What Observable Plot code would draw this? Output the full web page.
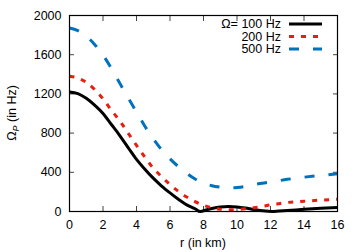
<!DOCTYPE html>
<html><head><meta charset="utf-8">
<script src="https://cdn.jsdelivr.net/npm/d3@7"></script>
<script src="https://cdn.jsdelivr.net/npm/@observablehq/plot@0.6"></script>
<style>body{margin:0;background:#fff}</style>
</head><body><div id="chart"></div>
<script>
const r100 = [0,0.5,1,1.5,2,2.5,3,3.5,4,4.5,5,5.5,6,6.5,7,7.5,7.8,8.2,8.5,9,9.5,10,10.5,11,11.5,12.1,12.5,13,14,15,16];
const v100 = [1220,1203,1155,1085,1000,888,775,652,532,432,340,260,190,125,68,28,0,18,30,45,50,46,35,20,8,0,5,10,22,32,41];
const r200 = [0,0.5,1,1.5,2,2.5,3,3.5,4,4.5,5,5.5,6,6.5,7,7.5,8,8.5,9,9.5,10,10.5,11,11.5,12,12.5,13,14,15,16];
const v200 = [1380,1362,1318,1245,1150,1032,925,800,675,555,442,355,275,205,148,100,63,38,24,17,20,28,38,52,68,80,92,105,116,125];
const r500 = [0,0.5,1,1.5,2,2.5,3,3.5,4,4.5,5,5.5,6,6.5,7,7.5,8,8.5,9,9.5,10,10.5,11,12,13,14,15,16];
const v500 = [1872,1845,1790,1705,1595,1460,1310,1160,1015,870,742,630,537,458,390,332,290,263,248,240,245,256,275,300,328,350,368,385];
const seriesLabels = ["Ω= 100 Hz","200 Hz","500 Hz"];
const colors = ["#000000","#e51e10","#0072bd"];
const dashes = ["none","5,7","10,14"];
const xTicks = [0,2,4,6,8,10,12,14,16];
const yTicks = [0,400,800,1200,1600,2000];

const series = [[r100,v100],[r200,v200],[r500,v500]].map(([rs,vs],i)=>rs.map((r,j)=>({r, v: vs[j], s: i})));

const W=360,H=252, ML=69, MR=23, MT=15, MB=41;
const font = "'Liberation Sans', Arial, Helvetica, sans-serif";
const fmt = d3.format("d");
const chart = Plot.plot({
  width: W, height: H,
  marginLeft: ML, marginRight: MR, marginTop: MT, marginBottom: MB,
  style: {fontFamily: font, fontSize: "12.5px", color: "#000", background: "#fff"},
  x: {domain: [0,16]},
  y: {domain: [0,2000]},
  marks: [
    Plot.axisX({ticks: xTicks, tickSize: -5, tickPadding: 14, tickFormat: fmt, label: null, stroke: "#444"}),
    Plot.axisX({anchor: "top", ticks: xTicks, tickSize: -5, tickFormat: () => "", label: null, stroke: "#444"}),
    Plot.axisY({ticks: yTicks, tickSize: -5, tickPadding: 13, tickFormat: fmt, label: null, stroke: "#444"}),
    Plot.axisY({anchor: "right", ticks: yTicks, tickSize: -5, tickFormat: () => "", label: null, stroke: "#444"}),
    ...series.map((d,i)=>Plot.line(d, {x: "r", y: "v", stroke: colors[i], strokeWidth: 3,
      strokeDasharray: dashes[i], strokeLinecap: "butt", curve: "monotone-x"})),
    Plot.frame({stroke: "#000", strokeWidth: 1.2})
  ]
});
document.getElementById("chart").appendChild(chart);

const svg = d3.select(chart);
svg.append("text").attr("x", ML + (W-ML-MR)/2).attr("y", H-5)
  .attr("text-anchor","middle").attr("font-family", font).attr("font-size", 12.5).attr("fill","#000")
  .text("r (in km)");
const yl = svg.append("text").attr("transform", `translate(16,${MT + (H-MT-MB)/2}) rotate(-90)`)
  .attr("text-anchor","middle").attr("font-family", font).attr("font-size", 12.5).attr("fill","#000");
yl.append("tspan").text("Ω");
yl.append("tspan").attr("font-size", 9).attr("font-style","italic").attr("dy", 3).text("P");
yl.append("tspan").attr("dy", -3).text(" (in Hz)");

const lg = svg.append("g");
seriesLabels.forEach((t,i)=>{
  const y = MT + 9 + i*12.5;
  lg.append("text").attr("x", W-MR-56).attr("y", y).attr("dy","0.35em").attr("text-anchor","end")
    .attr("font-family", font).attr("font-size", 12.5).attr("fill","#000").text(t);
  lg.append("line").attr("x1", W-MR-48).attr("x2", W-MR-15).attr("y1", y).attr("y2", y)
    .attr("stroke", colors[i]).attr("stroke-width", 3).attr("stroke-dasharray", dashes[i]);
});
</script></body></html>
